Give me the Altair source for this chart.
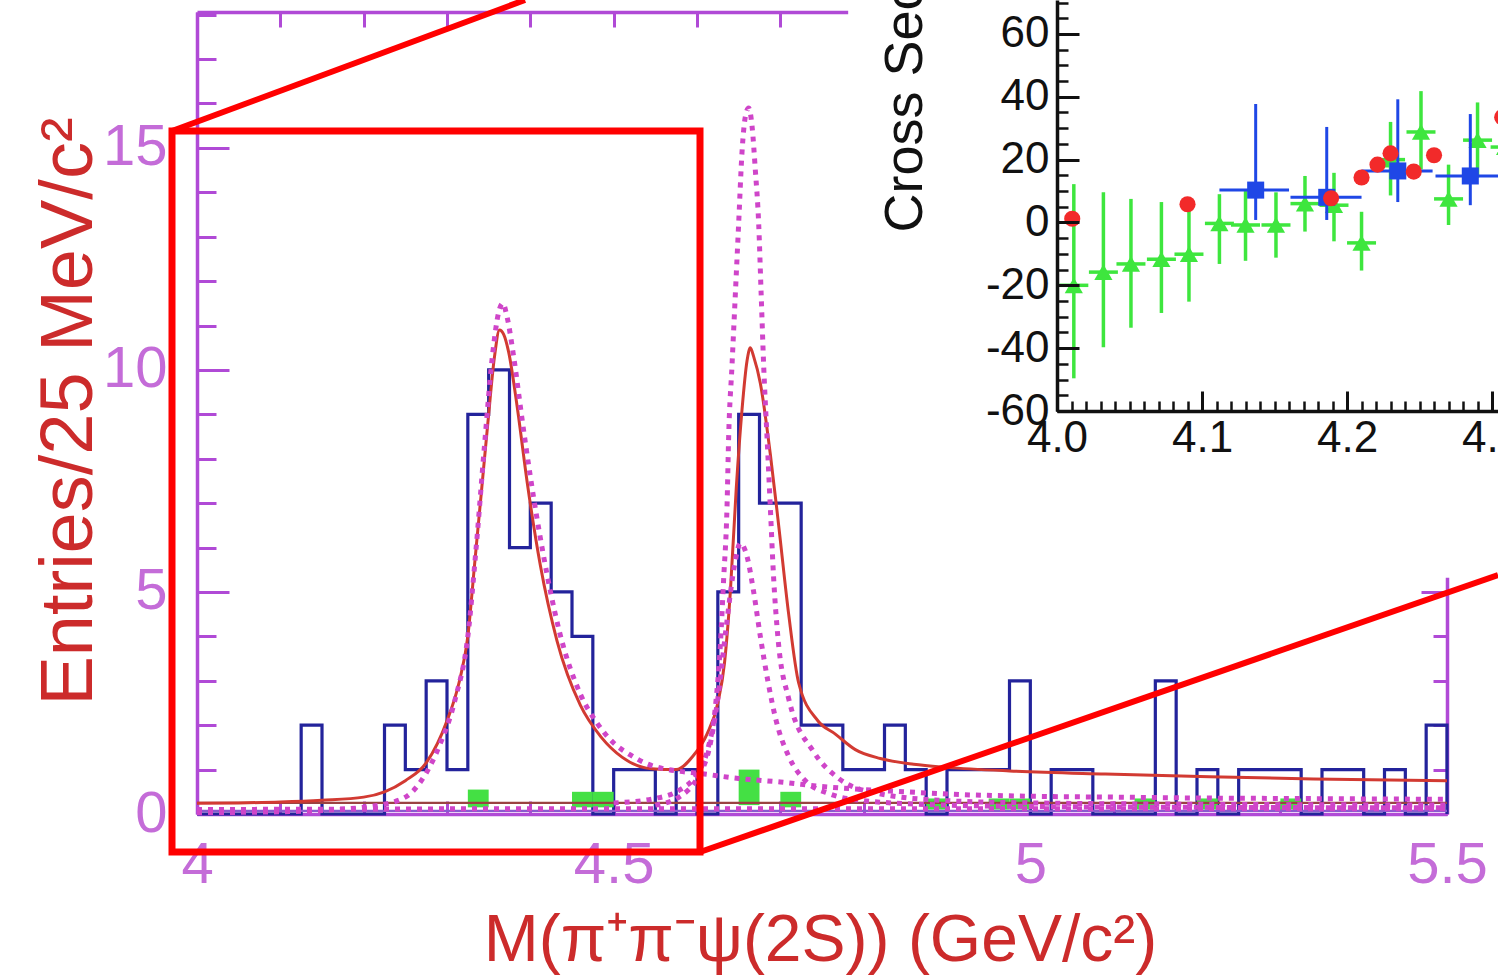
import altair as alt
import pandas as pd

# ---------------- main panel: M(pi+ pi- psi(2S)), 25 MeV/c^2 bins ----------------
BIN_LO = 4.0
BIN_W = 0.025
counts = [
    0, 0, 0, 0, 0, 2, 0, 0,        # 4.000 - 4.200
    0, 2, 1, 3, 1, 9, 10, 6,       # 4.200 - 4.400
    7, 5, 4, 0, 1, 1, 0, 1,        # 4.400 - 4.600
    0, 5, 9, 7, 7, 2, 2, 1,        # 4.600 - 4.800
    1, 2, 1, 0, 1, 1, 1, 3,        # 4.800 - 5.000
    0, 1, 1, 0, 0, 0, 3, 0,        # 5.000 - 5.200
    1, 0, 1, 1, 1, 0, 1, 1,        # 5.200 - 5.400
    0, 1, 0, 2,                    # 5.400 - 5.500
]

# total fit (solid)
fit_x = [4.00, 4.05, 4.10, 4.15, 4.20, 4.225, 4.25, 4.275, 4.30, 4.315,
         4.325, 4.333, 4.341, 4.349, 4.357, 4.363, 4.368, 4.374, 4.384, 4.396,
         4.412, 4.432, 4.46, 4.485, 4.51, 4.545, 4.575, 4.595, 4.612, 4.625,
         4.633, 4.64, 4.647, 4.654, 4.66, 4.664, 4.668, 4.676, 4.688, 4.698,
         4.71, 4.722, 4.745, 4.766, 4.79, 4.82, 4.86, 4.90, 4.975, 5.09,
         5.215, 5.34, 5.5]
fit_y = [0.24, 0.25, 0.27, 0.31, 0.38, 0.5, 0.75, 1.15, 2.1, 3.0,
         4.0, 5.6, 7.2, 8.8, 10.3, 10.9, 10.8, 10.4, 9.2, 7.5,
         5.6, 3.9, 2.45, 1.73, 1.28, 1.02, 1.0, 1.3, 1.8, 2.5,
         3.4, 5.0, 7.3, 9.1, 10.2, 10.5, 10.3, 9.7, 8.1, 6.5,
         4.5, 2.95, 2.1, 1.8, 1.45, 1.25, 1.12, 1.05, 0.97, 0.9,
         0.84, 0.79, 0.75]

# alternative solutions / components (dotted)
comp_a_x = [4.00, 4.10, 4.20, 4.247, 4.271, 4.29, 4.31, 4.325, 4.335, 4.345,
            4.355, 4.362, 4.367, 4.372, 4.38, 4.39, 4.40, 4.415, 4.435, 4.46,
            4.48, 4.50, 4.52, 4.54, 4.56, 4.58, 4.60, 4.65, 4.70, 4.75,
            4.80, 4.85, 4.90, 5.00, 5.10, 5.20, 5.30, 5.40, 5.50]
comp_a_y = [0.03, 0.05, 0.15, 0.35, 0.8, 1.5, 2.6, 4.0, 6.0, 8.3,
            10.4, 11.3, 11.5, 11.2, 10.3, 8.9, 7.6, 5.9, 4.1, 2.7,
            2.05, 1.6, 1.33, 1.13, 1.02, 0.96, 0.92, 0.8, 0.72, 0.62,
            0.55, 0.5, 0.45, 0.4, 0.38, 0.36, 0.35, 0.34, 0.33]
comp_b_x = [4.50, 4.55, 4.58, 4.60, 4.612, 4.622, 4.628, 4.632, 4.636, 4.638,
            4.642, 4.646, 4.650, 4.654, 4.658, 4.662, 4.666, 4.670, 4.674, 4.677,
            4.680, 4.684, 4.688, 4.692, 4.697, 4.71, 4.74, 4.77, 4.815, 4.90,
            5.00, 5.20, 5.50]
comp_b_y = [0.25, 0.35, 0.55, 0.9, 1.4, 2.4, 3.8, 5.3, 6.9, 8.5,
            10.1, 11.7, 13.3, 14.9, 15.7, 15.9, 15.5, 14.5, 13.3, 11.7,
            10.1, 8.5, 6.9, 5.3, 4.0, 2.6, 1.4, 0.8, 0.47, 0.3,
            0.25, 0.22, 0.2]
comp_c_x = [4.55, 4.58, 4.60, 4.615, 4.625, 4.635, 4.645, 4.652, 4.66, 4.668,
            4.676, 4.685, 4.695, 4.71, 4.73, 4.76, 4.80, 4.90, 5.00, 5.20, 5.50]
comp_c_y = [0.2, 0.4, 0.8, 1.5, 2.6, 4.2, 5.6, 6.1, 5.8, 5.0,
            4.0, 3.0, 2.1, 1.3, 0.75, 0.45, 0.3, 0.2, 0.17, 0.15, 0.14]
comp_d_x = [4.0, 4.5, 5.0, 5.5]
comp_d_y = [0.1, 0.12, 0.12, 0.12]

# sideband background (green boxes): bin start, lower and upper edge
bkg_start = [4.325, 4.45, 4.475, 4.65, 4.70, 4.875, 4.95, 4.975, 5.125, 5.20, 5.30]
bkg_lo = [0.15, 0.15, 0.15, 0.2, 0.15, 0.1, 0.1, 0.1, 0.1, 0.1, 0.1]
bkg_hi = [0.55, 0.5, 0.5, 1.0, 0.5, 0.35, 0.35, 0.35, 0.35, 0.35, 0.35]

# flat background levels drawn across the full range
flat_level = [0.25, 0.07]
flat_color = ["#9a4242", "#8a5ad0"]

# ---------------- inset: cross section vs sqrt(s) ----------------
tri_x = [4.0116, 4.032, 4.051, 4.072, 4.091, 4.112, 4.130, 4.151, 4.171, 4.191,
         4.210, 4.230, 4.251, 4.270, 4.290, 4.309]
tri_y = [-20.0, -15.8, -13.2, -11.7, -10.1, -0.3, -0.8, -0.8, 6.0, 5.5,
         -6.5, 20.0, 28.8, 7.5, 26.2, 24.0]
tri_lo = [-49.6, -39.7, -33.5, -28.8, -25.2, -13.2, -12.2, -11.2, -2.9, -6.0,
          -15.3, 8.6, 16.9, -0.8, 14.3, 12.0]
tri_hi = [12.2, 9.6, 7.5, 6.5, 7.0, 9.0, 10.0, 9.6, 14.8, 15.8,
          3.4, 32.0, 41.8, 18.4, 38.2, 36.0]
TRI_XERR = 0.01

circ_x = [4.0105, 4.090, 4.189, 4.210, 4.221, 4.230, 4.246, 4.260, 4.307]
circ_y = [1.2, 5.8, 7.7, 14.3, 18.4, 22.0, 16.2, 21.4, 33.5]

sq_x = [4.137, 4.186, 4.235, 4.285]
sq_y = [10.3, 8.0, 16.4, 14.8]
sq_xlo = [4.112, 4.161, 4.210, 4.261]
sq_xhi = [4.160, 4.210, 4.259, 4.320]
sq_ylo = [0.8, 0.8, 6.5, 5.5]
sq_yhi = [37.7, 30.4, 39.2, 34.5]

# white panel behind the inset (inset units)
inset_panel = {"x0": [3.856], "x1": [4.32], "y0": [-113.1], "y1": [72.0]}

# zoom box over the low-mass peak and its two guide lines (main units)
zoom_box = {"x0": [3.970], "x1": [4.6036], "y0": [-0.855], "y1": [15.38]}
zoom_lines = {"xa": [3.970, 4.6036], "ya": [15.38, -0.855],
              "xb": [4.3936, 5.5612], "yb": [18.33, 5.38]}

# ---------------- layout & style ----------------
W, H = 1498, 977
FONT = "Liberation Sans"
FRAME = "#b04ad6"
LABEL = "#c46cd8"
TITLE_RED = "#cc2b2b"
HIST_BLUE = "#23239b"
FIT_RED = "#d23a32"
DOT_MAG = "#cf45c9"
BKG_GREEN = "#44e044"
INK = "#111111"
TRI_GREEN = "#3ee63e"
SQ_BLUE = "#1f47e6"
CIRC_RED = "#f22a2a"
ZOOM_RED = "#ff0000"

MAIN_X0, MAIN_X1, MAIN_Y0, MAIN_Y1 = 197, 1447, 814, 12
IN_X0, IN_Y0 = 1057, 411

MX = alt.Scale(domain=[4.0, 5.5], range=[MAIN_X0, MAIN_X1], nice=False, zero=False)
MY = alt.Scale(domain=[0.0, 18.06], range=[MAIN_Y0, MAIN_Y1], nice=False, zero=False)
IX = alt.Scale(domain=[4.0, 4.3041], range=[IN_X0, W], nice=False, zero=False)
IY = alt.Scale(domain=[-60.0, 70.8], range=[IN_Y0, 0], nice=False, zero=False)

main_x_ticks = [round(4.0 + 0.1 * i, 2) for i in range(16)]
main_y_major = [0, 5, 10, 15]
main_y_minor = list(range(0, 19))
in_x_major = [4.0, 4.1, 4.2, 4.3]
in_x_minor = [round(4.0 + 0.01 * i, 2) for i in range(31)]
in_y_major = list(range(-60, 61, 20))
in_y_minor = list(range(-60, 71, 5))


def tick_axis(orient, offset, values, size, color, width, domain=True, z=0):
    return alt.Axis(orient=orient, offset=offset, values=values, labels=False,
                    ticks=True, tickSize=size, tickColor=color, tickWidth=width,
                    domain=domain, domainColor=color, domainWidth=width + 0.5,
                    grid=False, title=None, zindex=z)


def guide(xscale, yscale, xaxis, yaxis):
    df = pd.DataFrame({"gx": xscale.domain, "gy": yscale.domain})
    return alt.Chart(df).mark_point(opacity=0).encode(
        x=alt.X("gx:Q", scale=xscale, axis=xaxis),
        y=alt.Y("gy:Q", scale=yscale, axis=yaxis),
    )


# ---- main panel guides ----
main_labels = guide(
    MX, MY,
    alt.Axis(orient="bottom", offset=MAIN_Y0 - H, values=[4, 4.5, 5, 5.5], format="~g",
             ticks=False, domain=False, grid=False, labelFont=FONT, labelFontSize=58,
             labelColor=LABEL, labelPadding=22, labelFlush=False, labelOverlap=False,
             title="M(\u03c0\u207a\u03c0\u207b\u03c8(2S)) (GeV/c\u00b2)", titleFont=FONT,
             titleFontSize=66, titleFontWeight="normal", titleColor=TITLE_RED,
             titleX=820, titleY=146, titleAlign="center", titleBaseline="alphabetic",
             titleAngle=0),
    alt.Axis(orient="left", offset=-MAIN_X0, values=main_y_major, ticks=False, domain=False,
             grid=False, labelFont=FONT, labelFontSize=58, labelColor=LABEL,
             labelPadding=30, labelOverlap=False,
             title="Entries/25 MeV/c\u00b2", titleFont=FONT, titleFontSize=74,
             titleFontWeight="normal", titleColor=TITLE_RED, titleX=-106, titleY=411,
             titleAlign="center", titleBaseline="alphabetic", titleAngle=270),
)
frame_a = guide(MX, MY,
                tick_axis("top", -MAIN_Y0, main_x_ticks, 13, FRAME, 3),
                tick_axis("right", MAIN_X0 - W, main_y_major, 32, FRAME, 3))
frame_b = guide(MX, MY,
                tick_axis("bottom", MAIN_Y1 - H, main_x_ticks, 15, FRAME, 3),
                tick_axis("left", -MAIN_X1, main_y_minor, 14, FRAME, 3))
frame_c = guide(MX, MY, None,
                tick_axis("right", MAIN_X0 - W, main_y_minor, 19, FRAME, 3, domain=False))
frame_d = guide(MX, MY, None,
                tick_axis("left", -MAIN_X1, main_y_major, 26, FRAME, 3, domain=False))

# ---- main panel marks ----
n = len(counts)
hist_df = pd.DataFrame({
    "m": [round(BIN_LO + BIN_W * i, 3) for i in range(n)] + [round(BIN_LO + BIN_W * n, 3)] * 2,
    "c": counts + [counts[-1], 0],
    "i": list(range(n + 2)),
})
hist = alt.Chart(hist_df).mark_line(interpolate="step-after", color=HIST_BLUE,
                                    strokeWidth=3.2).encode(
    x=alt.X("m:Q", scale=MX, axis=None),
    y=alt.Y("c:Q", scale=MY, axis=None),
    order="i:Q",
)

bkg_df = pd.DataFrame({"s": bkg_start, "e": [round(s + BIN_W, 3) for s in bkg_start],
                       "lo": bkg_lo, "hi": bkg_hi})
bkg = alt.Chart(bkg_df).mark_rect(color=BKG_GREEN).encode(
    x=alt.X("s:Q", scale=MX, axis=None), x2="e:Q",
    y=alt.Y("lo:Q", scale=MY, axis=None), y2="hi:Q",
)

flat_df = pd.DataFrame({"a": [4.0] * 2, "b": [5.5] * 2, "lev": flat_level, "col": flat_color})
flat = alt.Chart(flat_df).mark_rule(strokeWidth=2.2).encode(
    x=alt.X("a:Q", scale=MX, axis=None), x2="b:Q",
    y=alt.Y("lev:Q", scale=MY, axis=None),
    color=alt.Color("col:N", scale=None),
)

fit_df = pd.DataFrame({"m": fit_x, "v": fit_y})
fit = alt.Chart(fit_df).mark_line(interpolate="monotone", color=FIT_RED, strokeWidth=3).encode(
    x=alt.X("m:Q", scale=MX, axis=None),
    y=alt.Y("v:Q", scale=MY, axis=None),
)

comp_rows = []
for name, xs, ys in [("a", comp_a_x, comp_a_y), ("b", comp_b_x, comp_b_y),
                     ("c", comp_c_x, comp_c_y), ("d", comp_d_x, comp_d_y)]:
    comp_rows += [{"comp": name, "m": x, "v": y} for x, y in zip(xs, ys)]
comp = alt.Chart(pd.DataFrame(comp_rows)).mark_line(
    interpolate="monotone", color=DOT_MAG, strokeWidth=5, strokeDash=[5, 6]).encode(
    x=alt.X("m:Q", scale=MX, axis=None),
    y=alt.Y("v:Q", scale=MY, axis=None),
    detail="comp:N",
)

main_marks = alt.layer(hist, bkg, flat, fit, comp)

# ---- inset marks ----
panel = alt.Chart(pd.DataFrame(inset_panel)).mark_rect(color="white").encode(
    x=alt.X("x0:Q", scale=IX, axis=None), x2="x1:Q",
    y=alt.Y("y0:Q", scale=IY, axis=None), y2="y1:Q",
)
tri_df = pd.DataFrame({"x": tri_x, "y": tri_y, "lo": tri_lo, "hi": tri_hi,
                       "xl": [round(x - TRI_XERR, 4) for x in tri_x],
                       "xh": [round(x + TRI_XERR, 4) for x in tri_x]})
tri_v = alt.Chart(tri_df).mark_rule(color=TRI_GREEN, strokeWidth=3.5).encode(
    x=alt.X("x:Q", scale=IX, axis=None), y=alt.Y("lo:Q", scale=IY, axis=None), y2="hi:Q")
tri_h = alt.Chart(tri_df).mark_rule(color=TRI_GREEN, strokeWidth=3.5).encode(
    x=alt.X("xl:Q", scale=IX, axis=None), x2="xh:Q", y=alt.Y("y:Q", scale=IY, axis=None))
tri = alt.Chart(tri_df).mark_point(shape="triangle-up", filled=True, size=330,
                                   color=TRI_GREEN, opacity=1).encode(
    x=alt.X("x:Q", scale=IX, axis=None), y=alt.Y("y:Q", scale=IY, axis=None))

sq_df = pd.DataFrame({"x": sq_x, "y": sq_y, "xl": sq_xlo, "xh": sq_xhi,
                      "lo": sq_ylo, "hi": sq_yhi})
sq_v = alt.Chart(sq_df).mark_rule(color=SQ_BLUE, strokeWidth=3).encode(
    x=alt.X("x:Q", scale=IX, axis=None), y=alt.Y("lo:Q", scale=IY, axis=None), y2="hi:Q")
sq_h = alt.Chart(sq_df).mark_rule(color=SQ_BLUE, strokeWidth=3).encode(
    x=alt.X("xl:Q", scale=IX, axis=None), x2="xh:Q", y=alt.Y("y:Q", scale=IY, axis=None))
sq = alt.Chart(sq_df).mark_point(shape="square", filled=True, size=290,
                                 color=SQ_BLUE, opacity=1).encode(
    x=alt.X("x:Q", scale=IX, axis=None), y=alt.Y("y:Q", scale=IY, axis=None))

circ = alt.Chart(pd.DataFrame({"x": circ_x, "y": circ_y})).mark_point(
    shape="circle", filled=True, size=260, color=CIRC_RED, opacity=1).encode(
    x=alt.X("x:Q", scale=IX, axis=None), y=alt.Y("y:Q", scale=IY, axis=None))

inset_marks = alt.layer(panel, tri_v, tri_h, tri, sq_v, sq_h, sq, circ)

# ---- inset guides (drawn above the white panel) ----
inset_labels = guide(
    IX, IY,
    alt.Axis(orient="bottom", offset=IN_Y0 - H, values=in_x_major, format=".1f",
             ticks=False, domain=False, grid=False, labelFont=FONT, labelFontSize=44,
             labelColor=INK, labelPadding=5, labelFlush=False, labelOverlap=False,
             title=None, zindex=1),
    alt.Axis(orient="left", offset=-IN_X0, values=in_y_major, ticks=False, domain=False,
             grid=False, labelFont=FONT, labelFontSize=44, labelColor=INK,
             labelPadding=8, labelOverlap=False, labelExpr="toString(datum.value)",
             title="Cross Section (pb)", titleFont=FONT, titleFontSize=54,
             titleFontWeight="normal", titleColor=INK, titleX=-136, titleY=232,
             titleAlign="left", titleBaseline="alphabetic", titleAngle=270, zindex=1),
)
inset_frame = guide(IX, IY,
                    tick_axis("top", -IN_Y0, in_x_major, 20, INK, 3, z=1),
                    tick_axis("right", IN_X0 - W, in_y_major, 22, INK, 3, z=1))
inset_minor = guide(IX, IY,
                    tick_axis("top", -IN_Y0, in_x_minor, 10, INK, 2.5, domain=False, z=1),
                    tick_axis("right", IN_X0 - W, in_y_minor, 11, INK, 2.5, domain=False, z=1))

# ---- zoom box and guide lines ----
zbox = alt.Chart(pd.DataFrame(zoom_box)).mark_rect(filled=False, color=ZOOM_RED,
                                                   strokeWidth=7).encode(
    x=alt.X("x0:Q", scale=MX, axis=None), x2="x1:Q",
    y=alt.Y("y0:Q", scale=MY, axis=None), y2="y1:Q",
)
zlines = alt.Chart(pd.DataFrame(zoom_lines)).mark_rule(color=ZOOM_RED, strokeWidth=6).encode(
    x=alt.X("xa:Q", scale=MX, axis=None), x2="xb:Q",
    y=alt.Y("ya:Q", scale=MY, axis=None), y2="yb:Q",
)
zoom = alt.layer(zbox, zlines)

chart = alt.layer(
    main_labels, frame_a, frame_b, frame_c, frame_d,
    main_marks, inset_marks,
    inset_labels, inset_frame, inset_minor,
    zoom,
).resolve_scale(
    x="independent", y="independent"
).properties(
    width=W, height=H,
    autosize=alt.AutoSizeParams(type="none"),
    padding=0,
    background="white",
).configure_view(stroke=None)

chart.save("out.html", embed_options={"renderer": "svg", "actions": False})
